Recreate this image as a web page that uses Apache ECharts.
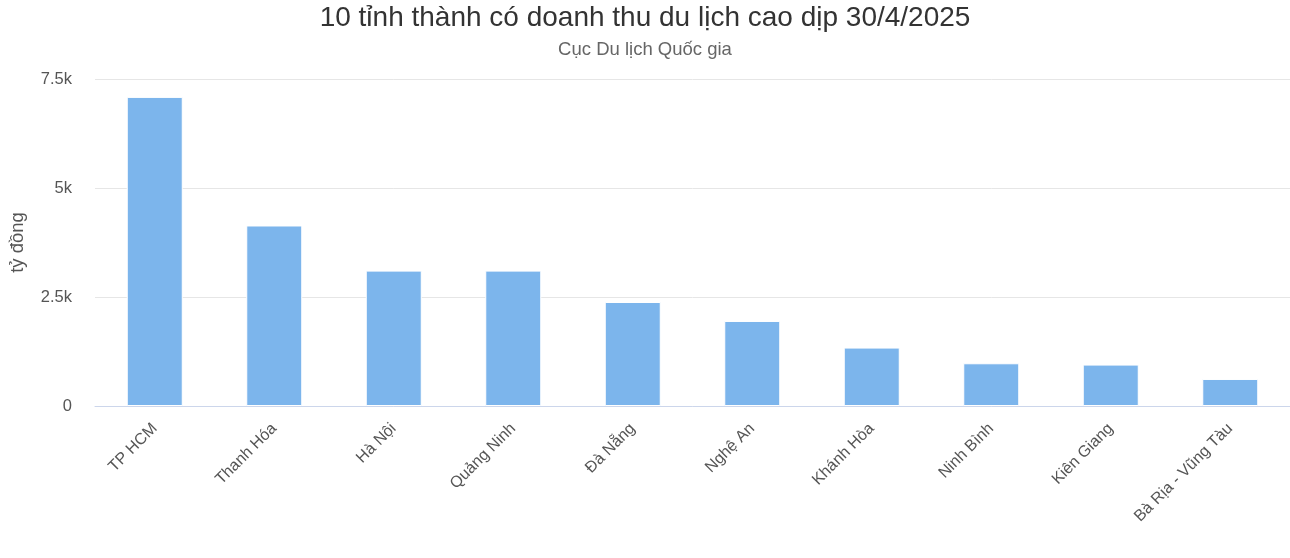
<!DOCTYPE html>
<html>
<head>
<meta charset="utf-8">
<script src="https://cdn.jsdelivr.net/npm/echarts@6/dist/echarts.min.js"></script>
<style>
html,body{margin:0;padding:0;background:#fff;}
#chart{width:1290px;height:558px;}
</style>
</head>
<body>
<div id="chart"></div>
<script>
const categories = ["TP HCM","Thanh Hóa","Hà Nội","Quảng Ninh","Đà Nẵng","Nghệ An","Khánh Hòa","Ninh Bình","Kiên Giang","Bà Rịa - Vũng Tàu"];
const revenue = [7090, 4140, 3105, 3105, 2385, 1950, 1340, 980, 950, 620];
const yTicks = [0, 2500, 5000, 7500];
const titleText = "10 tỉnh thành có doanh thu du lịch cao dịp 30/4/2025";
const subtitleText = "Cục Du lịch Quốc gia";
const yAxisName = "tỷ đồng";

const chart = echarts.init(document.getElementById('chart'));
const font = "'Liberation Sans', Arial, Helvetica, sans-serif";
chart.setOption({
  animation: false,
  backgroundColor: '#ffffff',
  textStyle: {fontFamily: font},
  title: {
    text: titleText,
    subtext: subtitleText,
    left: 'center',
    top: -1,
    itemGap: 8,
    textStyle: {fontSize: 28, fontWeight: 'normal', color: '#333333', fontFamily: font},
    subtextStyle: {fontSize: 18.5, color: '#666666', fontFamily: font}
  },
  grid: {left: 91, width: 1202, top: 79, bottom: 152, containLabel: false},
  xAxis: {
    type: 'category',
    data: categories,
    axisLine: {lineStyle: {color: '#ccd6eb', width: 1}},
    axisTick: {show: false},
    axisLabel: {rotate: 45, color: '#555555', fontSize: 16, margin: 20, fontFamily: font, interval: 0}
  },
  yAxis: {
    type: 'value',
    min: yTicks[0],
    max: yTicks[yTicks.length - 1],
    interval: 2500,
    name: yAxisName,
    nameLocation: 'middle',
    nameGap: 68,
    nameRotate: 90,
    nameTextStyle: {fontSize: 18.5, color: '#555555', fontFamily: font},
    axisLine: {show: false},
    axisTick: {show: false},
    splitLine: {lineStyle: {color: '#e6e6e6', width: 1}},
    axisLabel: {
      color: '#555555', fontSize: 16.5, margin: 23, fontFamily: font,
      formatter: v => v === 0 ? '0' : (v / 1000) + 'k'
    }
  },
  series: [{
    type: 'bar',
    data: revenue,
    barWidth: 56,
    itemStyle: {color: '#7cb5ec', borderColor: '#ffffff', borderWidth: 1}
  }]
});
</script>
</body>
</html>
